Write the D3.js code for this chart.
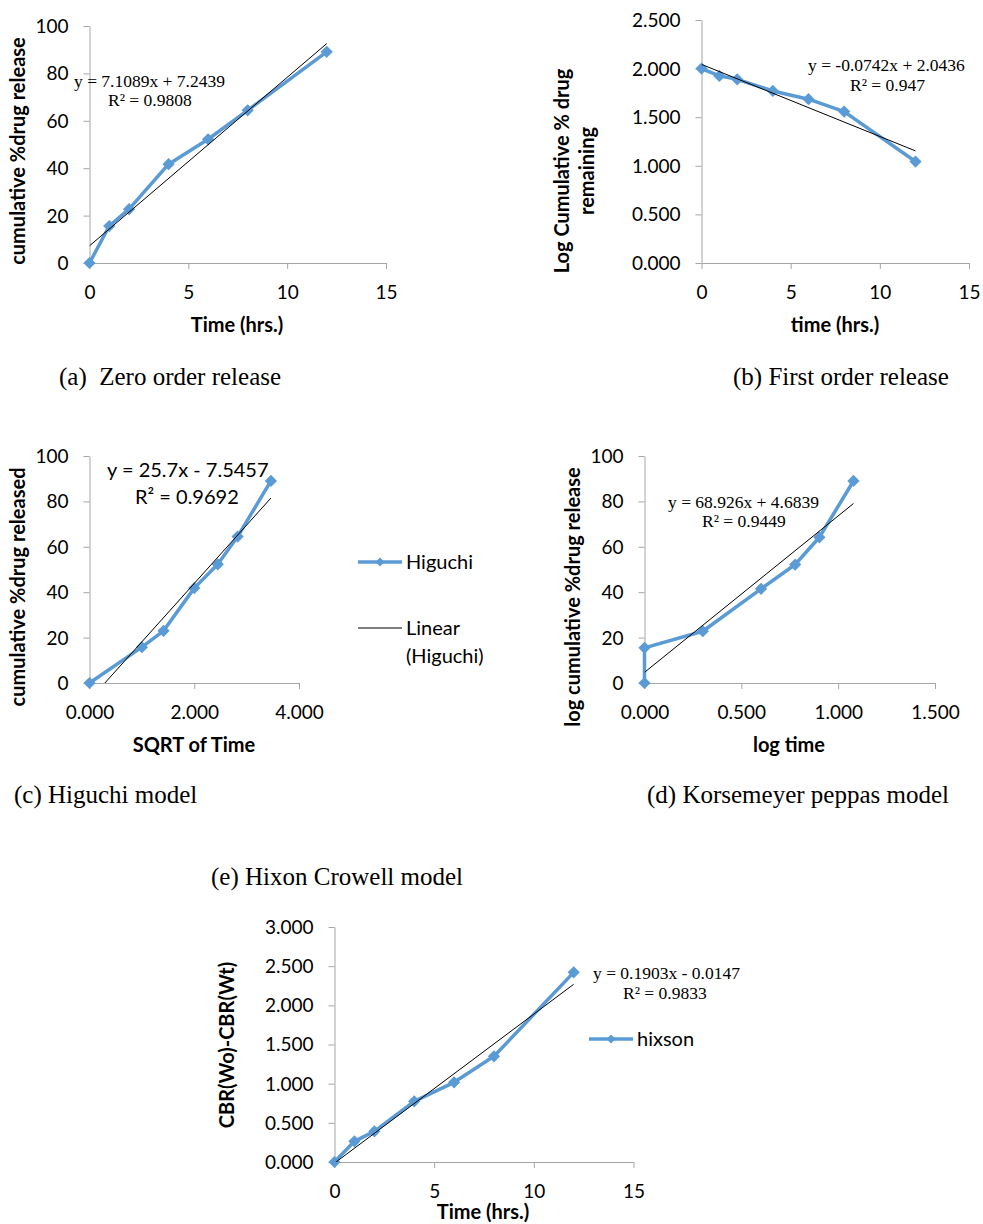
<!DOCTYPE html>
<html>
<head>
<meta charset="utf-8">
<script src="https://cdn.jsdelivr.net/npm/d3@7"></script>
<style>
  html, body { margin: 0; padding: 0; background: #fff; }
  svg { display: block; }
  .tick text { font-family: Lato, "Open Sans", sans-serif; font-size: 19px; fill: #000; }
  .axis-title { font-family: Lato, "Open Sans", sans-serif; font-size: 20px; font-weight: 700; fill: #000; }
  .eq-serif { font-family: "Liberation Serif", "Times New Roman", serif; font-size: 17.5px; fill: #000; }
  .eq-sans { font-family: Lato, "Open Sans", sans-serif; font-size: 20px; fill: #000; }
  .caption { font-family: "Liberation Serif", "Times New Roman", serif; font-size: 25px; fill: #000; white-space: pre; }
  .legend { font-family: Lato, "Open Sans", sans-serif; font-size: 20px; fill: #000; }
</style>
</head>
<body>
<svg id="chart" width="983" height="1224"></svg>
<script>
// ---- Release data ----
const timeHours = [0, 1, 2, 4, 6, 8, 12];
const zeroOrderRelease = [0, 15.6, 22.7, 41.7, 52.2, 64.4, 89.1];
const firstOrderLogRemaining = [2.000, 1.925, 1.890, 1.770, 1.685, 1.558, 1.044];
const sqrtTime = [0, 1.000, 1.414, 2.000, 2.449, 2.828, 3.464];
const higuchiRelease = [0, 15.8, 23.0, 41.8, 52.3, 64.5, 89.0];
const logTime = [0, 0, 0.301, 0.602, 0.778, 0.903, 1.079];
const peppasRelease = [0, 15.5, 22.8, 41.5, 52.2, 64.2, 89.0];
const hixsonValues = [0, 0.264, 0.391, 0.774, 1.017, 1.349, 2.421];

// ---- Linear fits (slope, intercept) ----
const zeroOrderFit = [7.1089, 7.2439];
const firstOrderFit = [-0.0742, 2.0436];
const higuchiFit = [25.7, -7.5457];
const peppasFit = [68.926, 4.6839];
const hixsonFit = [0.1903, -0.0147];

// ---- Tick values ----
const timeTicks = [0, 5, 10, 15];
const percentTicks = [0, 20, 40, 60, 80, 100];
const logRemainingTicks = [0, 0.5, 1, 1.5, 2, 2.5];
const sqrtTicks = [0, 2, 4];
const logTimeTicks = [0, 0.5, 1, 1.5];
const hixsonTicks = [0, 0.5, 1, 1.5, 2, 2.5, 3];

const SERIES_COLOR = "#5B9BD5";
const AXIS_COLOR = "#A6A6A6";

const svg = d3.select("#chart");
svg.append("rect").attr("width", 983).attr("height", 1224).attr("fill", "#fff");

const fmtInt = d3.format("d");
const fmt3 = d3.format(".3f");
const diamond = d3.symbol().type(d3.symbolSquare);

function drawPanel(p, idx) {
  const g = svg.append("g");
  const x = d3.scaleLinear().domain(p.xDomain).range([p.left, p.right]);
  const y = d3.scaleLinear().domain(p.yDomain).range([p.bottom, p.top]);

  // axes
  const xAxis = g.append("g").attr("transform", `translate(0,${p.bottom})`)
    .call(d3.axisBottom(x).tickValues(p.xTicks).tickFormat(p.xFmt).tickSize(6).tickSizeOuter(0));
  xAxis.selectAll("text").attr("y", 36).attr("dy", null);
  const yAxis = g.append("g").attr("transform", `translate(${p.left},0)`)
    .call(d3.axisLeft(y).tickValues(p.yTicks).tickFormat(p.yFmt).tickSize(6).tickSizeOuter(0));
  yAxis.selectAll("text").attr("x", -21).attr("dy", "0.34em");
  g.selectAll(".domain, .tick line").attr("stroke", AXIS_COLOR).attr("stroke-width", 1);

  // plot-area clip for the trend line
  const clipId = "clip" + idx;
  svg.append("clipPath").attr("id", clipId).append("rect")
    .attr("x", p.left).attr("y", p.top).attr("width", p.right - p.left).attr("height", p.bottom - p.top);

  const pts = p.xs.map((v, i) => [v, p.ys[i]]);
  const line = d3.line().x(d => x(d[0])).y(d => y(d[1]));

  g.append("path").datum(pts).attr("d", line)
    .attr("fill", "none").attr("stroke", SERIES_COLOR).attr("stroke-width", 3.5)
    .attr("stroke-linejoin", "round");

  g.selectAll(".mk").data(pts).join("path")
    .attr("d", diamond.size(75))
    .attr("transform", d => `translate(${x(d[0])},${y(d[1])}) rotate(45)`)
    .attr("fill", SERIES_COLOR);

  // trend line
  const [m, b] = p.fit;
  const x0 = 0, x1 = d3.max(p.xs);
  g.append("line").attr("clip-path", `url(#${clipId})`)
    .attr("x1", x(x0)).attr("y1", y(m * x0 + b))
    .attr("x2", x(x1)).attr("y2", y(m * x1 + b))
    .attr("stroke", "#000").attr("stroke-width", 1);

  // equation
  g.append("text").attr("class", p.eqClass).attr("x", p.eq[0]).attr("y", p.eq[1]).text(p.eqText);
  g.append("text").attr("class", p.eqClass).attr("x", p.r2[0]).attr("y", p.r2[1]).text(p.r2Text);

  // axis titles
  g.append("text").attr("class", "axis-title").attr("text-anchor", "middle")
    .attr("x", p.xTitle[0]).attr("y", p.xTitle[1]).attr("dy", "0.35em").text(p.xLabel);
  p.yLabel.forEach((lbl, i) => {
    g.append("text").attr("class", "axis-title").attr("text-anchor", "middle")
      .attr("transform", `translate(${p.yTitle[0] + i * 25},${p.yTitle[1]}) rotate(-90)`)
      .attr("dy", "0.35em").text(lbl);
  });

  // caption
  g.append("text").attr("class", "caption").attr("x", p.caption[0]).attr("y", p.caption[1]).text(p.captionText);

  // legend
  if (p.legend) {
    const L = p.legend;
    g.append("line").attr("x1", L.x).attr("x2", L.x + 44).attr("y1", L.y).attr("y2", L.y)
      .attr("stroke", SERIES_COLOR).attr("stroke-width", 3.5);
    g.append("path").attr("d", diamond.size(40))
      .attr("transform", `translate(${L.x + 22},${L.y}) rotate(45)`).attr("fill", SERIES_COLOR);
    g.append("text").attr("class", "legend").attr("x", L.x + 48).attr("y", L.y).attr("dy", "0.35em").text(L.series);
    if (L.fitLabel) {
      g.append("line").attr("x1", L.x).attr("x2", L.x + 44).attr("y1", L.y + 66).attr("y2", L.y + 66)
        .attr("stroke", "#000").attr("stroke-width", 1);
      L.fitLabel.forEach((t, i) => {
        g.append("text").attr("class", "legend").attr("x", L.x + 48).attr("y", L.y + 66 + i * 28)
          .attr("dy", "0.35em").text(t);
      });
    }
  }
}

const panels = [
  {
    xs: timeHours, ys: zeroOrderRelease, fit: zeroOrderFit,
    xDomain: [0, 15], yDomain: [0, 100], xTicks: timeTicks, yTicks: percentTicks,
    xFmt: fmtInt, yFmt: fmtInt,
    left: 89.5, right: 386, top: 26, bottom: 263,
    eqClass: "eq-serif", eq: [74, 87], r2: [108, 106],
    eqText: "y = 7.1089x + 7.2439", r2Text: "R² = 0.9808",
    xLabel: "Time (hrs.)", xTitle: [237, 325],
    yLabel: ["cumulative %drug release"], yTitle: [18, 151],
    captionText: "(a)  Zero order release", caption: [59, 385]
  },
  {
    xs: timeHours, ys: firstOrderLogRemaining, fit: firstOrderFit,
    xDomain: [0, 15], yDomain: [0, 2.5], xTicks: timeTicks, yTicks: logRemainingTicks,
    xFmt: fmtInt, yFmt: fmt3,
    left: 701.5, right: 969, top: 20, bottom: 263,
    eqClass: "eq-serif", eq: [808, 71], r2: [850, 91],
    eqText: "y = -0.0742x + 2.0436", r2Text: "R² = 0.947",
    xLabel: "time (hrs.)", xTitle: [835, 325],
    yLabel: ["Log Cumulative % drug", "remaining"], yTitle: [562, 171],
    captionText: "(b) First order release", caption: [733, 385]
  },
  {
    xs: sqrtTime, ys: higuchiRelease, fit: higuchiFit,
    xDomain: [0, 4], yDomain: [0, 100], xTicks: sqrtTicks, yTicks: percentTicks,
    xFmt: fmt3, yFmt: fmtInt,
    left: 89.5, right: 299, top: 456, bottom: 683,
    eqClass: "eq-sans", eq: [107, 477], r2: [135, 504],
    eqText: "y = 25.7x - 7.5457", r2Text: "R² = 0.9692",
    xLabel: "SQRT of Time", xTitle: [194, 745],
    yLabel: ["cumulative %drug released"], yTitle: [18, 587],
    captionText: "(c) Higuchi model", caption: [14, 803],
    legend: { x: 358, y: 562, series: "Higuchi", fitLabel: ["Linear", "(Higuchi)"] }
  },
  {
    xs: logTime, ys: peppasRelease, fit: peppasFit,
    xDomain: [0, 1.5], yDomain: [0, 100], xTicks: logTimeTicks, yTicks: percentTicks,
    xFmt: fmt3, yFmt: fmtInt,
    left: 644.5, right: 935, top: 456, bottom: 683,
    eqClass: "eq-serif", eq: [668, 508], r2: [702, 527],
    eqText: "y = 68.926x + 4.6839", r2Text: "R² = 0.9449",
    xLabel: "log time", xTitle: [789, 745],
    yLabel: ["log cumulative %drug release"], yTitle: [573, 597],
    captionText: "(d) Korsemeyer peppas model", caption: [647, 803]
  },
  {
    xs: timeHours, ys: hixsonValues, fit: hixsonFit,
    xDomain: [0, 15], yDomain: [0, 3], xTicks: timeTicks, yTicks: hixsonTicks,
    xFmt: fmtInt, yFmt: fmt3,
    left: 334.5, right: 633.5, top: 927, bottom: 1162,
    eqClass: "eq-serif", eq: [593, 979], r2: [623, 999],
    eqText: "y = 0.1903x - 0.0147", r2Text: "R² = 0.9833",
    xLabel: "Time (hrs.)", xTitle: [483, 1212],
    yLabel: ["CBR(Wo)-CBR(Wt)"], yTitle: [227, 1045],
    captionText: "(e) Hixon Crowell model", caption: [211, 885],
    legend: { x: 589, y: 1039, series: "hixson" }
  }
];

panels.forEach(drawPanel);
</script>
</body>
</html>
